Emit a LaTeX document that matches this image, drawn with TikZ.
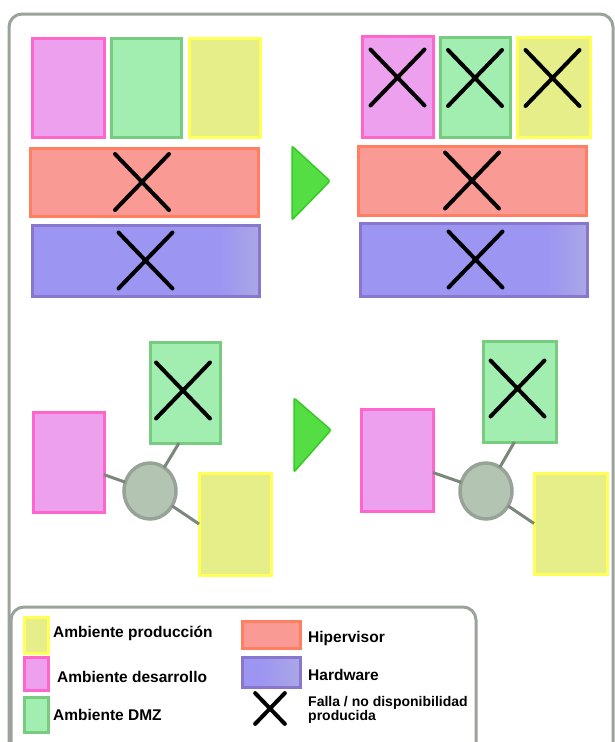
\documentclass[tikz,border=0pt]{standalone}
\usepackage{fontspec}
\setmainfont{Liberation Sans}
\usetikzlibrary{shapes.geometric}

\definecolor{pinkF}{HTML}{EDA0EE}\definecolor{pinkD}{HTML}{FF66CC}
\definecolor{greenF}{HTML}{A2EEB1}\definecolor{greenD}{HTML}{77CC80}
\definecolor{yellowF}{HTML}{E5EE88}\definecolor{yellowD}{HTML}{FFFF55}
\definecolor{redF}{HTML}{F99B94}\definecolor{redD}{HTML}{FF7F60}
\definecolor{purpF}{HTML}{9D95F2}\definecolor{purpD}{HTML}{8877CC}\definecolor{purpL}{HTML}{AAA6E6}
\definecolor{hubF}{HTML}{B3C4B3}\definecolor{hubD}{HTML}{98A398}
\definecolor{linkC}{HTML}{7B877B}
\definecolor{arrowF}{HTML}{55DD44}\definecolor{arrowD}{HTML}{33CC22}
\definecolor{frameC}{HTML}{9AA39A}

\tikzset{
  box/.style={rectangle, inner sep=0pt, outer sep=0pt, line width=3pt},
  pinkbox/.style={box, fill=pinkF, draw=pinkD},
  greenbox/.style={box, fill=greenF, draw=greenD},
  yellowbox/.style={box, fill=yellowF, draw=yellowD},
  redbox/.style={box, fill=redF, draw=redD},
  % hardware bar: flat fill with a soft lighter band toward the right end
  purplebox/.style={box, fill=purpF, draw=purpD,
    path picture={
      \foreach \i [evaluate=\i as \p using int(\i*8)] in {0,...,12}
        \fill[purpL!\p!purpF]
          ([xshift={-40pt+\i*3pt}]path picture bounding box.north east)
          rectangle ([xshift={-37pt+\i*3pt}]path picture bounding box.south east);
    }},
  hub/.style={ellipse, inner sep=0pt, outer sep=0pt, fill=hubF, draw=hubD, line width=3.5pt,
    minimum width=52pt, minimum height=56pt},
  link/.style={draw=linkC, line width=3pt},
  playarrow/.style={fill=arrowF, draw=arrowD, line width=1.5pt, rounded corners=2pt},
  frame/.style={draw=frameC, line width=3pt, rounded corners=13pt},
  legtext/.style={anchor=west, inner sep=0pt, font=\bfseries\fontsize{15.5}{15.5}\selectfont, align=left},
  legsmall/.style={legtext, font=\bfseries\fontsize{14}{14}\selectfont},
  xmark/.pic={\draw[line width=4pt, line cap=round] (-27,-28) -- (27,28) (-27,28) -- (27,-28);}
}

\begin{document}
\begin{tikzpicture}[x=1pt,y=-1pt]
\useasboundingbox (0,0) rectangle (615,742);

% outer frame
\draw[frame] (9,14) rectangle (613,770);

% ---- top: stacked layers, before ----
\node[pinkbox, minimum width=72pt, minimum height=99pt] (P1) at (68,87.5) {};
\node[greenbox, minimum width=70pt, minimum height=99pt] (G1) at (146,87.5) {};
\node[yellowbox, minimum width=71pt, minimum height=99pt] (Y1) at (224.5,87.5) {};
\node[redbox, minimum width=228pt, minimum height=68pt] (H1) at (144,182) {};
\node[purplebox, minimum width=227pt, minimum height=71pt] (W1) at (145.5,260.5) {};
\pic at ([xshift=-2pt]H1) {xmark};
\pic at (W1) {xmark};

\draw[playarrow] (292,146) -- (330,181) -- (292,220) -- cycle;

% ---- top: stacked layers, after ----
\node[pinkbox, minimum width=71pt, minimum height=101pt] (P2) at (397.5,86.5) {};
\node[greenbox, minimum width=70pt, minimum height=100pt] (G2) at (475,87) {};
\node[yellowbox, minimum width=73pt, minimum height=100pt] (Y2) at (553.5,87) {};
\node[redbox, minimum width=228pt, minimum height=69pt] (H2) at (472,180.5) {};
\node[purplebox, minimum width=227pt, minimum height=73pt] (W2) at (473.5,259.5) {};
\pic at ([yshift=9pt]P2) {xmark};
\pic at ([yshift=9pt]G2) {xmark};
\pic at ([yshift=9pt,xshift=-1pt]Y2) {xmark};
\pic at (H2) {xmark};
\pic at ([xshift=2pt]W2) {xmark};

% ---- bottom: hub and environments, before ----
\node[pinkbox, minimum width=71pt, minimum height=100pt] (P3) at (68.5,462) {};
\node[greenbox, minimum width=70pt, minimum height=101pt] (G3) at (185,392.5) {};
\node[yellowbox, minimum width=72pt, minimum height=102pt] (Y3) at (235,524) {};
\node[hub] (C3) at (150,491) {};
\draw[link] (P3) -- (C3);
\draw[link] (C3) -- ([xshift=-6pt]G3.south);
\draw[link] (C3) -- (Y3.west);
\pic at ([xshift=-2pt,yshift=2pt]G3) {xmark};

\draw[playarrow] (294,398) -- (331,430) -- (294,472) -- cycle;

% ---- bottom: hub and environments, after ----
\node[pinkbox, minimum width=72pt, minimum height=102pt] (P4) at (397,460) {};
\node[greenbox, minimum width=73pt, minimum height=101pt] (G4) at (519.5,391.5) {};
\node[yellowbox, minimum width=73pt, minimum height=101pt] (Y4) at (570.5,523.5) {};
\node[hub] (C4) at (486,491) {};
\draw[link] (P4) -- (C4);
\draw[link] (C4) -- ([xshift=-5pt]G4.south);
\draw[link] (C4) -- (Y4.west);
\pic at ([xshift=-2pt,yshift=3pt]G4) {xmark};

% ---- legend ----
\draw[frame] (11,607) rectangle (476,770);
\node[yellowbox, minimum width=24pt, minimum height=36pt] (LY) at (36,635) {};
\node[pinkbox, minimum width=24pt, minimum height=33pt] (LP) at (36,673.5) {};
\node[greenbox, minimum width=24pt, minimum height=35pt] (LG) at (36,714.5) {};
\node[redbox, minimum width=58pt, minimum height=27pt] (LH) at (271,634.5) {};
\node[purplebox, minimum width=58pt, minimum height=30pt] (LW) at (271,672) {};
\pic[scale=0.55] at (270,708.5) {xmark};

\node[legtext] (tY) at (53,633) {Ambiente producción};
\node[legtext] (tP) at (57,677) {Ambiente desarrollo};
\node[legtext] (tG) at (53,715) {Ambiente DMZ};
\node[legtext] (tH) at (308,638) {Hipervisor};
\node[legtext] (tW) at (308,675) {Hardware};
\node[legsmall] (tX) at (308,710) {Falla / no disponibilidad\\producida};
\end{tikzpicture}
\end{document}
